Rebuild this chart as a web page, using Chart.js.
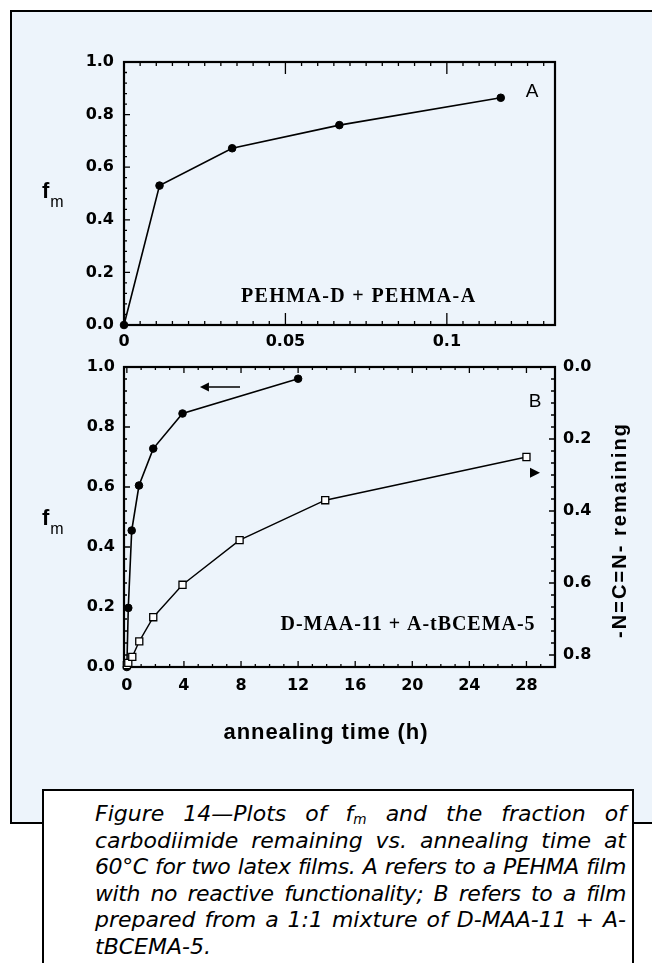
<!DOCTYPE html>
<html>
<head>
<meta charset="utf-8">
<script src="https://cdn.jsdelivr.net/npm/chart.js@4.4.1/dist/chart.umd.min.js"></script>
<style>
  html, body { margin: 0; padding: 0; }
  body { width: 652px; height: 963px; position: relative; overflow: hidden; background: #fff; }
  #frame {
    position: absolute; box-sizing: border-box;
    left: 9.5px; top: 9.5px; width: 720px; height: 814px;
    border: 2.5px solid #000; background: #edf4fb;
  }
  canvas { position: absolute; left: 0; }
  #chartA { top: 0; }
  #chartB { top: 340px; }
  #captionBox {
    position: absolute; box-sizing: border-box;
    left: 41.5px; top: 788.5px; width: 592px; height: 200px;
    border: 2.5px solid #000; background: #fff;
  }
  #caption {
    position: absolute; left: 95px; top: 801px; width: 531px;
    font: italic 22px "DejaVu Sans", sans-serif; color: #000;
  }
  #caption .ln {
    height: 26.5px; line-height: 26.5px; white-space: nowrap;
    text-align: justify; text-align-last: justify;
  }
  #caption .ln.tight { letter-spacing: -0.4px; }
  #caption .ln.last { text-align: left; text-align-last: left; }
  #caption sub { font-size: 0.62em; line-height: 0; vertical-align: -0.2em; }
</style>
</head>
<body>
<div id="frame"></div>
<canvas id="chartA" width="652" height="360"></canvas>
<canvas id="chartB" width="652" height="420"></canvas>
<div id="captionBox"></div>
<div id="caption">
  <div class="ln">Figure 14—Plots of f<sub>m</sub> and the fraction of</div>
  <div class="ln">carbodiimide remaining vs. annealing time at</div>
  <div class="ln tight">60°C for two latex films. A refers to a PEHMA film</div>
  <div class="ln tight">with no reactive functionality; B refers to a film</div>
  <div class="ln">prepared from a 1:1 mixture of D-MAA-11 + A-</div>
  <div class="ln last">tBCEMA-5.</div>
</div>

<script>
// Panel A: PEHMA-D + PEHMA-A, annealing time in hours
const timeA = [0, 0.011, 0.0335, 0.0667, 0.1167];
const fmA = [0, 0.53, 0.672, 0.76, 0.864];

// Panel B: D-MAA-11 + A-tBCEMA-5
const timeFmB = [0, 0.1, 0.34, 0.85, 1.85, 3.9, 12];
const fmB = [0, 0.197, 0.455, 0.605, 0.728, 0.845, 0.961];
const timeNcnB = [0, 0.1, 0.38, 0.87, 1.85, 3.9, 7.9, 13.9, 28];
const ncnB = [0.828, 0.822, 0.805, 0.762, 0.695, 0.605, 0.481, 0.37, 0.25];

// tick labels
const xTicksA = [0, 0.05, 0.1];
const xTicksB = [0, 4, 8, 12, 16, 20, 24, 28];
const fmTicks = [0, 0.2, 0.4, 0.6, 0.8, 1.0];
const ncnTicks = [0, 0.2, 0.4, 0.6, 0.8];

const tickFont = { family: '"DejaVu Sans", sans-serif', weight: 'bold', size: 16 };
const sans = '"Liberation Sans", Arial, sans-serif';
const serif = '"Liberation Serif", "Times New Roman", serif';

function points(xs, ys) {
  return xs.map((x, i) => ({ x, y: ys[i] }));
}

function fixedTicks(values) {
  return (scale) => { scale.ticks = values.map((v) => ({ value: v })); };
}

// text stretched with letter spacing to a given width
function spacedText(ctx, text, x, y, width) {
  ctx.letterSpacing = '0px';
  if (width) {
    const w = ctx.measureText(text).width;
    ctx.letterSpacing = ((width - w) / (text.length - 1)).toFixed(2) + 'px';
  }
  ctx.textAlign = 'center';
  ctx.textBaseline = 'middle';
  ctx.fillText(text, x, y);
  ctx.letterSpacing = '0px';
}

function drawFm(ctx, x, baseline) {
  ctx.textAlign = 'left';
  ctx.textBaseline = 'alphabetic';
  ctx.font = 'bold 22px ' + sans;
  ctx.fillText('f', x, baseline);
  const w = ctx.measureText('f').width;
  ctx.font = '16px ' + sans;
  ctx.fillText('m', x + w + 1, baseline + 9);
}

// box around the plot area with inward major/minor ticks
function frameTicks(axes) {
  return {
    id: 'frameTicks',
    beforeDatasetsDraw(chart) {
      const { ctx, chartArea: a, scales } = chart;
      ctx.save();
      ctx.strokeStyle = '#000';
      ctx.lineWidth = 1.3;
      ctx.beginPath();
      axes.forEach((ax) => {
        const sc = scales[ax.id];
        const lo = Math.min(sc.min, sc.max), hi = Math.max(sc.min, sc.max);
        for (let k = Math.ceil(lo / ax.minor - 1e-6); k * ax.minor <= hi + 1e-9; k++) {
          const v = k * ax.minor;
          const major = Math.abs(v / ax.major - Math.round(v / ax.major)) < 1e-6;
          const len = major ? ax.majorLen : ax.minorLen;
          const p = sc.getPixelForValue(v);
          ax.sides.forEach((side) => {
            if (side === 'left') { ctx.moveTo(a.left, p); ctx.lineTo(a.left + len, p); }
            if (side === 'right') { ctx.moveTo(a.right, p); ctx.lineTo(a.right - len, p); }
            if (side === 'bottom') { ctx.moveTo(p, a.bottom); ctx.lineTo(p, a.bottom - len); }
            if (side === 'top') { ctx.moveTo(p, a.top); ctx.lineTo(p, a.top + len); }
          });
        }
      });
      ctx.stroke();
      ctx.lineWidth = 2.2;
      ctx.strokeRect(a.left, a.top, a.right - a.left, a.bottom - a.top);
      ctx.restore();
    }
  };
}

// panel letters, sample names, arrows and axis titles
function notes(cfg) {
  return {
    id: 'notes',
    afterDatasetsDraw(chart) {
      const ctx = chart.ctx;
      const sx = chart.scales.x;
      ctx.save();
      ctx.fillStyle = '#000';
      ctx.strokeStyle = '#000';
      (cfg.labels || []).forEach((l) => {
        const px = l.at ? l.at[0] : sx.getPixelForValue(l.x);
        const py = l.at ? l.at[1] : chart.scales[l.axis || 'y'].getPixelForValue(l.y);
        ctx.save();
        ctx.font = l.font;
        ctx.translate(px, py);
        if (l.rotate) ctx.rotate(l.rotate);
        spacedText(ctx, l.text, 0, 0, l.width);
        ctx.restore();
      });
      (cfg.fm || []).forEach((f) => drawFm(ctx, f[0], f[1]));
      (cfg.arrows || []).forEach((ar) => {
        const sy = chart.scales[ar.axis];
        const x0 = sx.getPixelForValue(ar.from), x1 = sx.getPixelForValue(ar.to);
        const y = sy.getPixelForValue(ar.y);
        const dir = Math.sign(x1 - x0);
        const head = ar.shaft ? ar.head : Math.abs(x1 - x0);
        if (ar.shaft) {
          ctx.lineWidth = 1.5;
          ctx.beginPath();
          ctx.moveTo(x0, y);
          ctx.lineTo(x1 - dir * head, y);
          ctx.stroke();
        }
        ctx.beginPath();
        ctx.moveTo(x1, y);
        ctx.lineTo(x1 - dir * head, y - ar.half);
        ctx.lineTo(x1 - dir * head, y + ar.half);
        ctx.closePath();
        ctx.fill();
      });
      ctx.restore();
    }
  };
}

const filled = {
  borderColor: '#000', backgroundColor: '#000', borderWidth: 1.6,
  pointStyle: 'circle', pointRadius: 3.8, pointBorderWidth: 1,
  pointBackgroundColor: '#000', tension: 0, clip: false
};
const open = {
  borderColor: '#000', backgroundColor: '#fff', borderWidth: 1.4,
  pointStyle: 'rect', pointRadius: 5, pointBorderWidth: 1.3,
  pointBackgroundColor: '#fff', tension: 0, clip: false
};

function axisBase() {
  return {
    type: 'linear',
    grid: { display: false, drawTicks: false },
    border: { display: false },
  };
}

new Chart(document.getElementById('chartA'), {
  type: 'line',
  data: {
    datasets: [{ ...filled, data: points(timeA, fmA) }]
  },
  options: {
    responsive: false,
    animation: false,
    layout: { padding: { left: 0, top: 62, right: 97, bottom: 0 } },
    plugins: { legend: { display: false }, tooltip: { enabled: false } },
    scales: {
      x: {
        ...axisBase(), min: 0, max: 0.1335,
        afterBuildTicks: fixedTicks(xTicksA),
        afterFit: (s) => { s.height = 35; },
        ticks: { font: tickFont, color: '#000', padding: 7, maxRotation: 0, autoSkip: false, callback: (v) => String(v) }
      },
      y: {
        ...axisBase(), min: 0, max: 1,
        afterBuildTicks: fixedTicks(fmTicks),
        afterFit: (s) => { s.width = 124; },
        ticks: { font: tickFont, color: '#000', padding: 10, callback: (v) => v.toFixed(1) }
      }
    }
  },
  plugins: [
    frameTicks([
      { id: 'x', major: 0.05, minor: 0.005, majorLen: 12, minorLen: 4, sides: ['bottom', 'top'] },
      { id: 'y', major: 0.2, minor: 0.04, majorLen: 6, minorLen: 3, sides: ['left'] }
    ]),
    notes({
      labels: [
        { text: 'A', x: 0.1264, y: 0.886, font: '19px ' + sans },
        { text: 'PEHMA-D + PEHMA-A', x: 0.0727, y: 0.106, font: 'bold 20px ' + serif, width: 234 }
      ],
      fm: [[42, 198]]
    })
  ]
});

new Chart(document.getElementById('chartB'), {
  type: 'line',
  data: {
    datasets: [
      { ...open, yAxisID: 'y2', data: points(timeNcnB, ncnB) },
      { ...filled, yAxisID: 'y', data: points(timeFmB, fmB) }
    ]
  },
  options: {
    responsive: false,
    animation: false,
    layout: { padding: { left: 0, top: 27, right: 0, bottom: 0 } },
    plugins: { legend: { display: false }, tooltip: { enabled: false } },
    scales: {
      x: {
        ...axisBase(), min: -0.2, max: 30,
        afterBuildTicks: fixedTicks(xTicksB),
        afterFit: (s) => { s.height = 93; },
        ticks: { font: tickFont, color: '#000', padding: 9, maxRotation: 0, autoSkip: false, callback: (v) => String(v) }
      },
      y: {
        ...axisBase(), position: 'left', min: 0, max: 1,
        afterBuildTicks: fixedTicks(fmTicks),
        afterFit: (s) => { s.width = 124; },
        ticks: { font: tickFont, color: '#000', padding: 9, callback: (v) => v.toFixed(1) }
      },
      y2: {
        ...axisBase(), position: 'right', reverse: true, min: 0, max: 0.8333,
        afterBuildTicks: fixedTicks(ncnTicks),
        afterFit: (s) => { s.width = 97; },
        ticks: { font: tickFont, color: '#000', padding: 8, callback: (v) => v.toFixed(1) }
      }
    }
  },
  plugins: [
    frameTicks([
      { id: 'x', major: 4, minor: 1, majorLen: 6, minorLen: 3, sides: ['bottom', 'top'] },
      { id: 'y', major: 0.2, minor: 0.04, majorLen: 6, minorLen: 3, sides: ['left'] },
      { id: 'y2', major: 0.2, minor: 0.2 / 6, majorLen: 6, minorLen: 4, sides: ['right'] }
    ]),
    notes({
      labels: [
        { text: 'B', x: 28.6, y: 0.883, font: '19px ' + sans },
        { text: 'D-MAA-11 + A-tBCEMA-5', x: 19.7, y: 0.14, font: 'bold 20px ' + serif, width: 254 },
        { text: 'annealing time (h)', at: [326, 393], font: 'bold 22px ' + sans, width: 204 },
        { text: '-N=C=N- remaining', at: [620, 190], rotate: -Math.PI / 2, font: 'bold 20px ' + sans, width: 214 }
      ],
      fm: [[42, 185]],
      arrows: [
        { axis: 'y', from: 7.93, to: 5.12, y: 0.933, head: 9, half: 4.5, shaft: true },
        { axis: 'y2', from: 28.25, to: 28.95, y: 0.294, half: 5, shaft: false }
      ]
    })
  ]
});
</script>
</body>
</html>
